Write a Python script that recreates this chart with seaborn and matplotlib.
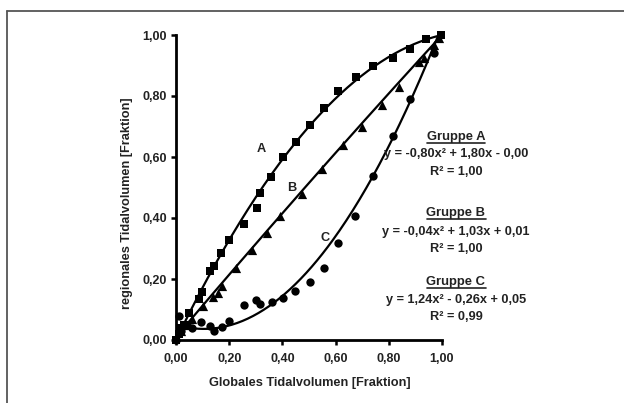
import numpy as np
import pandas as pd
import matplotlib
matplotlib.use("Agg")
import matplotlib.pyplot as plt
from matplotlib.lines import Line2D
import seaborn as sns

# ---------------- data ----------------
A_x = [0.0, 0.01, 0.02, 0.03, 0.05, 0.088, 0.097, 0.128, 0.141, 0.17, 0.201, 0.254, 0.305,
       0.317, 0.358, 0.403, 0.453, 0.502, 0.556, 0.61, 0.675, 0.741, 0.814, 0.88, 0.94, 0.996]
A_y = [0.0, 0.02, 0.04, 0.05, 0.09, 0.134, 0.156, 0.227, 0.243, 0.286, 0.328, 0.38, 0.433,
       0.482, 0.536, 0.599, 0.648, 0.704, 0.762, 0.817, 0.861, 0.898, 0.925, 0.953, 0.988, 1.0]

B_x = [0.0, 0.02, 0.04, 0.06, 0.1, 0.14, 0.157, 0.172, 0.226, 0.286, 0.342, 0.392, 0.474,
       0.55, 0.629, 0.70, 0.774, 0.839, 0.915, 0.933, 0.971, 0.99]
B_y = [0.01, 0.03, 0.05, 0.07, 0.11, 0.14, 0.155, 0.178, 0.235, 0.295, 0.35, 0.405, 0.48,
       0.56, 0.638, 0.70, 0.77, 0.83, 0.91, 0.925, 0.967, 0.99]

C_x = [0.0, 0.01, 0.02, 0.04, 0.06, 0.095, 0.128, 0.141, 0.172, 0.201, 0.257, 0.302, 0.317,
       0.361, 0.403, 0.449, 0.502, 0.556, 0.61, 0.673, 0.741, 0.814, 0.88, 0.971]
C_y = [0.0, 0.08, 0.03, 0.05, 0.04, 0.06, 0.045, 0.03, 0.043, 0.062, 0.114, 0.13, 0.117,
       0.126, 0.137, 0.161, 0.189, 0.236, 0.317, 0.405, 0.539, 0.668, 0.79, 0.94]

# quadratic fit coefficients (a, b, c) as printed on the chart
coef_A = [-0.80, 1.80, 0.00]
coef_B = [-0.04, 1.03, 0.01]
coef_C = [1.24, -0.26, 0.05]

group_titles = ["Gruppe A", "Gruppe B", "Gruppe C"]
equations = ["y = -0,80x\u00b2 + 1,80x - 0,00",
             "y = -0,04x\u00b2 + 1,03x + 0,01",
             "y = 1,24x\u00b2 - 0,26x + 0,05"]
r2_texts = ["R\u00b2 = 1,00", "R\u00b2 = 1,00", "R\u00b2 = 0,99"]
curve_labels = ["A", "B", "C"]

ticks = [0.0, 0.2, 0.4, 0.6, 0.8, 1.0]
tick_labels = ["0,00", "0,20", "0,40", "0,60", "0,80", "1,00"]
xlabel = "Globales Tidalvolumen [Fraktion]"
ylabel = "regionales Tidalvolumen [Fraktion]"

# ---------------- style ----------------
sns.set_style("ticks")
plt.rcParams["font.family"] = ["Liberation Sans", "DejaVu Sans"]
plt.rcParams["font.weight"] = "bold"

fig = plt.figure(figsize=(6.24, 4.03), dpi=100)
W, H = 624, 403
ax = fig.add_axes([176 / W, 1 - 340 / H, 266 / W, 305 / H])

marker_kw = dict(color="black", edgecolor="black", linewidth=0, clip_on=False, legend=False, zorder=5)
sns.scatterplot(x=A_x, y=A_y, marker="s", s=36, ax=ax, **marker_kw)
sns.scatterplot(x=B_x, y=B_y, marker="^", s=44, ax=ax, **marker_kw)
sns.scatterplot(x=C_x, y=C_y, marker="o", s=36, ax=ax, **marker_kw)

grid = np.linspace(0, 1, 201)
for coef in (coef_A, coef_B, coef_C):
    yy = np.polyval(coef, grid)
    mask = yy <= 1.0
    sns.lineplot(x=grid[mask], y=yy[mask], color="black", linewidth=1.6, ax=ax,
                 estimator=None, sort=False, zorder=4)

ax.set_xlim(0, 1)
ax.set_ylim(0, 1)
ax.set_xticks(ticks)
ax.set_xticklabels(tick_labels)
ax.set_yticks(ticks)
ax.set_yticklabels(tick_labels)
for lab in ax.get_xticklabels() + ax.get_yticklabels():
    lab.set_fontweight("bold")
    lab.set_fontsize(9)
    lab.set_color("#222222")
ax.tick_params(axis="both", direction="out", length=3.5, width=1.8, color="black")
ax.tick_params(axis="x", pad=6)
ax.tick_params(axis="y", pad=3)
for side in ("left", "bottom"):
    ax.spines[side].set_linewidth(2.0)
    ax.spines[side].set_color("black")
sns.despine(ax=ax)

ax.set_xlabel(xlabel, fontsize=9.2, fontweight="bold", color="#222222")
ax.set_ylabel(ylabel, fontsize=9.2, fontweight="bold", color="#222222")
ax.xaxis.set_label_coords(0.504, -0.12)
ax.yaxis.set_label_coords(-0.16, 0.45)

# curve labels
curve_label_pos = [(0.322, 0.626), (0.435, 0.497), (0.56, 0.333)]
for lab, (lx, ly) in zip(curve_labels, curve_label_pos):
    ax.text(lx, ly, lab, ha="center", va="center", fontsize=9.2, fontweight="bold", color="#222222")

# equation blocks (figure pixel positions)
block_y = [(137, 154, 172), (213, 232, 249), (282, 300, 317)]
cx = 456
fig.canvas.draw()
renderer = fig.canvas.get_renderer()
for title, eq, r2, (y1, y2, y3) in zip(group_titles, equations, r2_texts, block_y):
    t = fig.text(cx / W, 1 - y1 / H, title, ha="center", va="center", fontsize=9.4,
                 fontweight="bold", color="#222222")
    fig.text(cx / W, 1 - y2 / H, eq, ha="center", va="center", fontsize=9.2,
             fontweight="bold", color="#222222")
    fig.text(cx / W, 1 - y3 / H, r2, ha="center", va="center", fontsize=9.2,
             fontweight="bold", color="#222222")
    bb = t.get_window_extent(renderer=renderer)
    yl = (bb.y0 + 0.5) / H
    fig.add_artist(Line2D([bb.x0 / W, bb.x1 / W], [yl, yl], color="#222222", linewidth=1.2))

# outer frame (left and top edges)
fig.add_artist(Line2D([7 / W, 7 / W], [0, 1 - 11 / H], color="#555555", linewidth=1.3))
fig.add_artist(Line2D([7 / W, 1], [1 - 11 / H, 1 - 11 / H], color="#555555", linewidth=1.3))

fig.savefig("out.png", dpi=100)
